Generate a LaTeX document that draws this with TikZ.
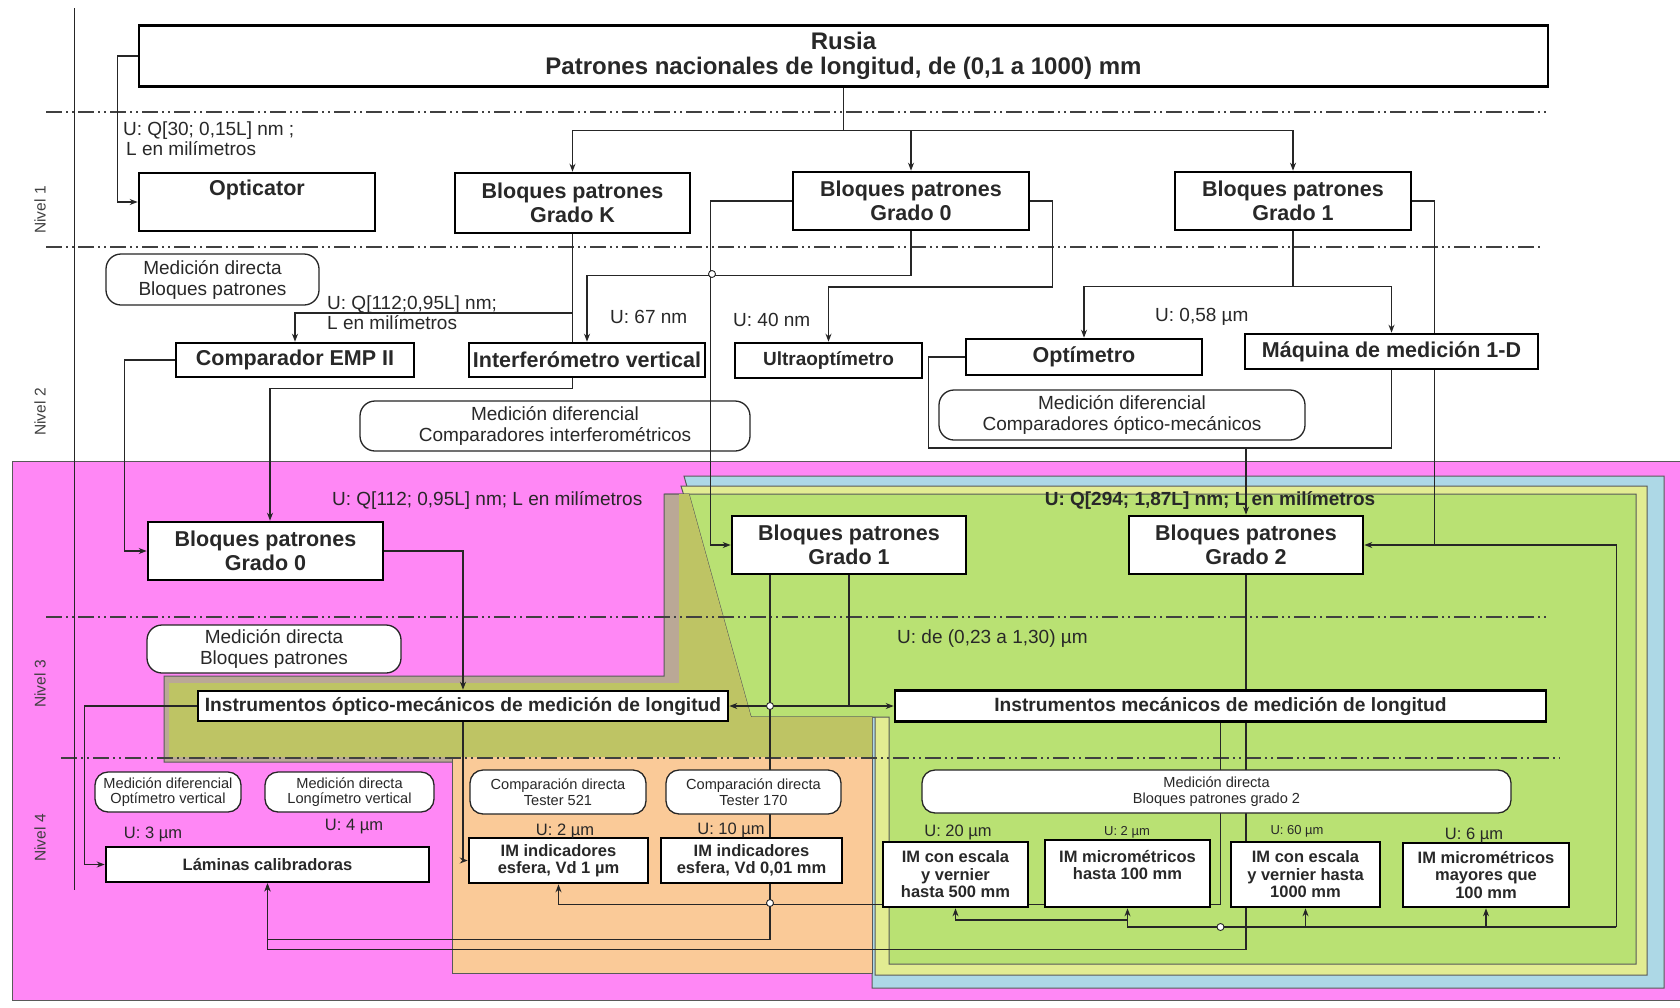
\documentclass[tikz,border=0pt]{standalone}
\usepackage{fontspec}
\setmainfont{Liberation Sans}
\usepackage{tikz}
\usetikzlibrary{arrows.meta, positioning, calc}
\definecolor{rosa}{RGB}{255,135,245}
\definecolor{celeste}{RGB}{173,216,230}
\definecolor{amarillo}{RGB}{226,236,146}
\definecolor{verde}{RGB}{185,225,115}
\definecolor{oliva}{RGB}{190,196,100}
\definecolor{topo}{RGB}{186,168,150}
\definecolor{naranja}{RGB}{250,202,152}
\definecolor{tinta}{RGB}{40,40,40}
\newcommand{\letra}[2]{\fontsize{#1}{#2}\selectfont}
\pgfdeclarelayer{zonas}
\pgfdeclarelayer{fondo}
\pgfsetlayers{zonas,fondo,main}

\begin{document}
\begin{tikzpicture}[
    x=1pt, y=-1pt,
    box/.style={draw=black, line width=2.6pt, fill=white, align=center, inner sep=0pt, text=tinta, font=\letra{21.5}{24}\bfseries},
    tbox/.style={box, font=\letra{16.5}{17.5}\bfseries},
    soft/.style={draw=black!85, line width=1.3pt, rounded corners=15pt, fill=white, align=center, inner sep=0pt, text=tinta, font=\letra{19}{21}},
    softs/.style={soft, rounded corners=13pt, font=\letra{14.6}{15.5}},
    ulab/.style={text=tinta, font=\letra{19}{20}, inner sep=0pt, align=left},
    nivel/.style={text=black!75, font=\letra{15.5}{17}, inner sep=0pt, rotate=90},
    wire/.style={line width=1.3pt, draw=black!85},
    link/.style={wire, ->, >={Stealth[length=8pt,width=6pt]}},
    niv/.style={draw=black!75, line width=1.2pt, dash pattern=on 16pt off 4pt on 2pt off 4pt on 2pt off 4pt},
    hop/.style={circle, draw=black!85, line width=0.9pt, fill=white, inner sep=0pt, minimum size=7pt},
    zona/.style={draw=black!65, line width=1pt}
]
    \useasboundingbox (0,0) rectangle (1680,1007);

    % nivel 1
    \node[box, font=\letra{24}{25}\bfseries, minimum width=1409, minimum height=61] (rusia) at (843.5,56) {Rusia\\Patrones nacionales de longitud, de (0,1 a 1000) mm};
    \node[box, minimum width=236, minimum height=58] (opt) at (257,202) {Opticator\\\phantom{Xg}};
    \node[box, minimum width=235, minimum height=60] (gk) at (572.5,203) {Bloques patrones\\Grado K};
    \node[box, minimum width=236, minimum height=58] (g0a) at (911,201) {Bloques patrones\\Grado 0};
    \node[box, minimum width=236, minimum height=58] (g1a) at (1293,201) {Bloques patrones\\Grado 1};

    % nivel 2
    \node[soft, minimum width=213, minimum height=51] (md2) at (212.5,279.5) {Medición directa\\Bloques patrones};
    \node[box, minimum width=238, minimum height=34] (comp) at (295,360) {Comparador EMP II};
    \node[box, minimum width=236, minimum height=34] (interf) at (587,360) {Interferómetro vertical};
    \node[box, font=\letra{19}{21}\bfseries, minimum width=187, minimum height=35] (ultra) at (828.5,360.5) {Ultraoptímetro};
    \node[box, minimum width=236, minimum height=36] (optim) at (1084,357) {Optímetro};
    \node[box, minimum width=293, minimum height=35] (maq) at (1391.5,351.5) {Máquina de medición 1-D};
    \node[soft, minimum width=390, minimum height=50] (mdi) at (555,426) {Medición diferencial\\Comparadores interferométricos};
    \node[soft, minimum width=366, minimum height=50] (mdo) at (1122,415) {Medición diferencial\\Comparadores óptico-mecánicos};

    % nivel 3
    \node[box, minimum width=235, minimum height=58] (g0c) at (265.5,551) {Bloques patrones\\Grado 0};
    \node[box, minimum width=234, minimum height=58] (g1c) at (849,545) {Bloques patrones\\Grado 1};
    \node[box, minimum width=234, minimum height=58] (g2) at (1246,545) {Bloques patrones\\Grado 2};
    \node[soft, minimum width=254, minimum height=48] (md3) at (274,649) {Medición directa\\Bloques patrones};
    \node[box, font=\letra{19.2}{20}\bfseries, minimum width=530, minimum height=30] (optmec) at (463,706) {Instrumentos óptico-mecánicos de medición de longitud};
    \node[box, font=\letra{19.2}{20}\bfseries, minimum width=651, minimum height=31] (meca) at (1220.5,706) {Instrumentos mecánicos de medición de longitud};

    % nivel 4
    \node[softs, minimum width=146, minimum height=40] (mdov) at (168,792) {Medición diferencial\\Optímetro vertical};
    \node[softs, minimum width=169, minimum height=40] (mdlv) at (349.5,792) {Medición directa\\Longímetro vertical};
    \node[softs, minimum width=176, minimum height=44] (cd521) at (558,792) {Comparación directa\\Tester 521};
    \node[softs, minimum width=175, minimum height=44] (cd170) at (753.5,792) {Comparación directa\\Tester 170};
    \node[softs, minimum width=589, minimum height=43] (mdbp) at (1216.5,791.5) {Medición directa\\Bloques patrones grado 2};
    \node[tbox, minimum width=323, minimum height=35] (lam) at (267.5,864.5) {Láminas calibradoras};
    \node[tbox, minimum width=179, minimum height=45] (imv1) at (558.5,860.5) {IM indicadores\\esfera, Vd 1 µm};
    \node[tbox, minimum width=181, minimum height=45] (imv2) at (751.5,860.5) {IM indicadores\\esfera, Vd 0,01 mm};
    \node[tbox, minimum width=145, minimum height=65] (esc500) at (955.5,874.5) {IM con escala\\y vernier\\hasta 500 mm};
    \node[tbox, minimum width=165, minimum height=67] (mic100) at (1127.5,873.5) {IM micrométricos\\hasta 100 mm\\\phantom{X}};
    \node[tbox, minimum width=149, minimum height=65] (esc1000) at (1305.5,874.5) {IM con escala\\y vernier hasta\\1000 mm};
    \node[tbox, minimum width=166, minimum height=64] (may) at (1486,875) {IM micrométricos\\mayores que\\100 mm};

    % etiquetas
    \node[nivel] (n1) at (40,210) {Nivel 1};
    \node[nivel] (n2) at (40,412) {Nivel 2};
    \node[nivel] (n3) at (40,684) {Nivel 3};
    \node[nivel] (n4) at (40,838) {Nivel 4};
    \node[ulab, anchor=west] (u30) at (123,139) {U: Q[30; 0,15L] nm ;\\\hspace*{3pt}L en milímetros};
    \node[ulab, anchor=west] (u112a) at (327,313) {U: Q[112;0,95L] nm;\\L en milímetros};
    \node[ulab, anchor=west] (u67) at (610,317) {U: 67 nm};
    \node[ulab, anchor=west] (u40) at (733,320) {U: 40 nm};
    \node[ulab, anchor=west] (u58) at (1155,317) {U: 0,58 µm};
    \node[ulab, anchor=west] (u112b) at (332,500) {U: Q[112; 0,95L] nm; L en milímetros};
    \node[ulab, font=\letra{19}{20}\bfseries] (u294) at (1210,500) {U: Q[294; 1,87L] nm; L en milímetros};
    \node[ulab, anchor=west] (u023) at (897,639) {U: de (0,23 a 1,30) µm};
    \node[ulab, font=\letra{16.5}{18}] (u3) at (153,834) {U: 3 µm};
    \node[ulab, font=\letra{16.5}{18}] (u4) at (354,827) {U: 4 µm};
    \node[ulab, font=\letra{16.5}{18}] (u2a) at (565,831) {U: 2 µm};
    \node[ulab, font=\letra{16.5}{18}] (u10) at (731,830) {U: 10 µm};
    \node[ulab, font=\letra{16.5}{18}] (u20) at (958,832) {U: 20 µm};
    \node[ulab, font=\letra{13}{14}] (u2b) at (1127,832) {U: 2 µm};
    \node[ulab, font=\letra{13}{14}] (u60) at (1297,831) {U: 60 µm};
    \node[ulab, font=\letra{16.5}{18}] (u6) at (1474,835) {U: 6 µm};

    % zonas de color y niveles
    \begin{pgfonlayer}{zonas}
        \fill[white] (0,0) rectangle (1680,1007);
        \filldraw[zona, fill=rosa] (12,461) rectangle (1690,1000);
        \filldraw[zona, fill=celeste] (684,476) -- (1664,476) -- (1664,988) -- (872,988) -- (872,717) -- (751,717) -- cycle;
        \filldraw[zona, fill=amarillo] (681,486) -- (1647,486) -- (1647,975) -- (875,975) -- (875,717) -- (751,717) -- cycle;
        \filldraw[zona, fill=verde] (665,494) -- (1636,494) -- (1636,964) -- (889,964) -- (889,717) -- (751,717) -- cycle;
        \filldraw[zona, fill=topo] (664,494) -- (689,494) -- (751,717) -- (872,717) -- (872,762) -- (164,762) -- (164,676) -- (664,676) -- cycle;
        \filldraw[zona, fill=naranja] (452,755) rectangle (872,973);
        \fill[oliva] (679,494) -- (689,494) -- (751,717) -- (872,717) -- (872,757) -- (169,757) -- (169,683) -- (679,683) -- cycle;
        \draw[niv] (46,112) -- (1548,112);
        \draw[niv] (46,247) -- (1542,247);
        \draw[niv] (46,617) -- (1548,617);
        \draw[niv] (61,758) -- (1560,758);
        \draw[wire] (74.6,8) -- (74.6,890);
    \end{pgfonlayer}

    % conexiones
    \begin{pgfonlayer}{fondo}
        \draw[link] (rusia.west) -- ++(-20,0) |- (opt.west);
        \draw[wire] (rusia.south) -- ++(0,43) coordinate (rb);
        \draw[link] (rb) -| (gk.north);
        \draw[link] (rb) -| (g0a.north);
        \draw[link] (rb) -| (g1a.north);
        \draw[wire] (gk.south) -- (gk.south |- interf.north);
        \draw[link] (gk.south |- 0,313) -| (comp.north);
        \draw[link] (gk.south |- interf.south) -- ++(0,10) -| ([xshift=4.5pt]g0c.north);
        \draw[link] (g0a.south) -- ++(0,44) -| (interf.north);
        \draw[link] (g0a.east) -- ++(22,0) -- ++(0,86) -| (ultra.north);
        \draw[link] (g1a.south) -- ++(0,55) coordinate (g1b) -| (optim.north);
        \draw[link] (g1b) -| (maq.north);
        \draw[link] (g1a.east) -- ++(22,0) coordinate (g1r) |- (g2.east);
        \draw[wire] (g1r |- g2.east) -- ++(182,0) -- ++(0,382) coordinate (bus);
        \draw[link] (bus) -| (mic100.south);
        \draw[link] (bus -| esc1000.south) -- (esc1000.south);
        \draw[link] (bus -| may.south) -- (may.south);
        \draw[link] (mic100.south |- 0,920) -| (esc500.south);
        \draw[wire] (optim.west) -- ++(-36,0) |- (maq.south |- 0,448) -- (maq.south);
        \draw[link] (g2.north |- 0,448) -- (g2.north);
        \draw[link] (comp.west) -- ++(-50,0) |- (g0c.west);
        \draw[link] (g0c.east) -| (optmec.north);
        \draw[link] (optmec.south) |- (imv1.west);
        \draw[link] (optmec.west) -- ++(-112,0) |- (lam.west);
        \draw[link] (g1c.south) |- (optmec.east);
        \draw[link] (g1c.south) |- (meca.west);
        \draw[link] ([xshift=-79pt]g1c.south) -- ++(0,364) -| (lam.south);
        \draw[link] (g2.south) -- ++(0,374) -| (lam.south);
        \draw[link] (meca.south) -- ++(0,181.5) -| (imv1.south);
    \end{pgfonlayer}

    \draw[link] (g0a.west) -- ++(-81,0) |- (g1c.west);
    \node[hop] (h1) at (712,274) {};
    \node[hop] (h2) at (770,706) {};
    \node[hop] (h3) at (770,903) {};
    \node[hop] (h4) at (1220.5,927) {};
\end{tikzpicture}
\end{document}
